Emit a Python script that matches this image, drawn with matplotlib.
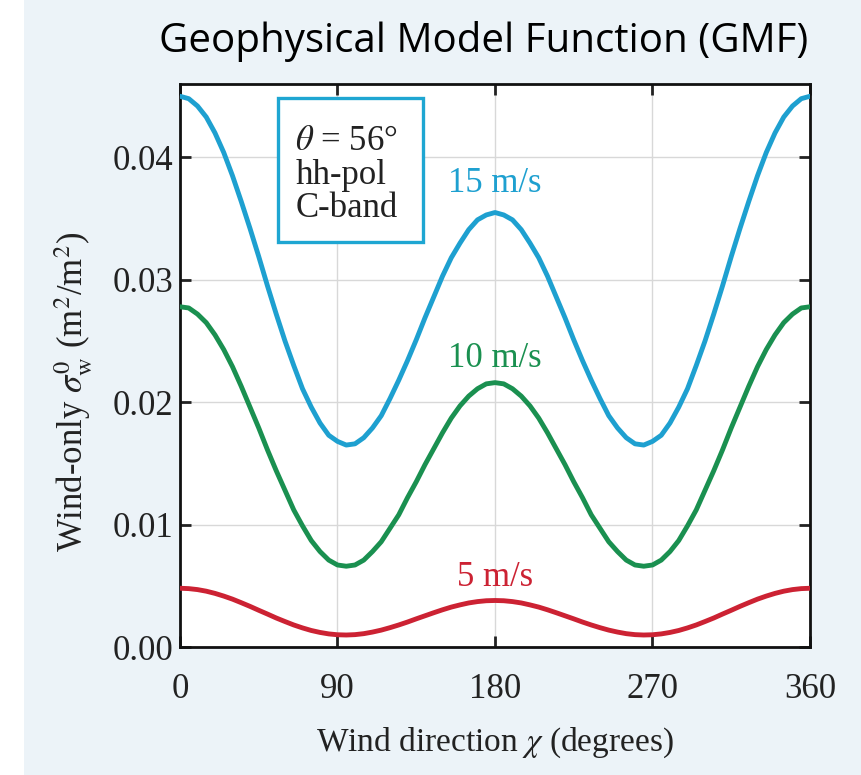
import matplotlib.pyplot as plt
from matplotlib.patches import Rectangle

# wind direction (degrees), values every 5 deg
chi = list(range(0, 361, 5))

sigma_15 = [0.0450, 0.0448, 0.0442, 0.0433, 0.0420, 0.0404, 0.0385, 0.0364, 0.0342, 0.0319,
            0.0295, 0.0272, 0.0250, 0.0230, 0.0211, 0.0196, 0.0183, 0.0173, 0.0168, 0.0165,
            0.0166, 0.0171, 0.0179, 0.0189, 0.0203, 0.0218, 0.0234, 0.0251, 0.0269, 0.0286,
            0.0303, 0.0318, 0.0330, 0.0341, 0.0349, 0.0353, 0.0355,
            0.0353, 0.0349, 0.0341, 0.0330, 0.0318, 0.0303, 0.0286, 0.0269, 0.0251, 0.0234,
            0.0218, 0.0203, 0.0189, 0.0179, 0.0171, 0.0166, 0.0165, 0.0168, 0.0173, 0.0183,
            0.0196, 0.0211, 0.0230, 0.0250, 0.0272, 0.0295, 0.0319, 0.0342, 0.0364, 0.0385,
            0.0404, 0.0420, 0.0433, 0.0442, 0.0448, 0.0450]

sigma_10 = [0.0278, 0.0277, 0.0272, 0.0265, 0.0255, 0.0243, 0.0229, 0.0213, 0.0196, 0.0179,
            0.0161, 0.0144, 0.0128, 0.0112, 0.0099, 0.0087, 0.0078, 0.0071, 0.0067, 0.0066,
            0.0067, 0.0071, 0.0078, 0.0086, 0.0097, 0.0108, 0.0122, 0.0135, 0.0149, 0.0162,
            0.0175, 0.0187, 0.0197, 0.0205, 0.0211, 0.0215, 0.0216,
            0.0215, 0.0211, 0.0205, 0.0197, 0.0187, 0.0175, 0.0162, 0.0149, 0.0135, 0.0122,
            0.0108, 0.0097, 0.0086, 0.0078, 0.0071, 0.0067, 0.0066, 0.0067, 0.0071, 0.0078,
            0.0087, 0.0099, 0.0112, 0.0128, 0.0144, 0.0161, 0.0179, 0.0196, 0.0213, 0.0229,
            0.0243, 0.0255, 0.0265, 0.0272, 0.0277, 0.0278]

sigma_5 = [0.00480, 0.00477, 0.00469, 0.00456, 0.00438, 0.00416, 0.00391, 0.00362, 0.00332, 0.00300,
           0.00269, 0.00237, 0.00208, 0.00180, 0.00156, 0.00135, 0.00119, 0.00107, 0.00100, 0.00098,
           0.00101, 0.00109, 0.00122, 0.00138, 0.00158, 0.00180, 0.00204, 0.00230, 0.00255, 0.00280,
           0.00304, 0.00326, 0.00344, 0.00360, 0.00371, 0.00378, 0.00380,
           0.00378, 0.00371, 0.00360, 0.00344, 0.00326, 0.00304, 0.00280, 0.00255, 0.00230, 0.00204,
           0.00180, 0.00158, 0.00138, 0.00122, 0.00109, 0.00101, 0.00098, 0.00100, 0.00107, 0.00119,
           0.00135, 0.00156, 0.00180, 0.00208, 0.00237, 0.00269, 0.00300, 0.00332, 0.00362, 0.00391,
           0.00416, 0.00438, 0.00456, 0.00469, 0.00477, 0.00480]

speeds = ['15 m/s', '10 m/s', '5 m/s']
label_y = [0.0379, 0.0236, 0.0057]
colors = ['#1ea0d0', '#1a9050', '#cc2233']

xticks = [0, 90, 180, 270, 360]
yticks = [0.00, 0.01, 0.02, 0.03, 0.04]

plt.rcParams['font.family'] = ['Liberation Serif', 'DejaVu Serif']
plt.rcParams['mathtext.fontset'] = 'stix'

fig = plt.figure(figsize=(8.62, 7.75), dpi=100)
fig.patch.set_facecolor('#ecf3f8')
# white strip on the left edge
fig.add_artist(Rectangle((0, 0), 24 / 862, 1, transform=fig.transFigure,
                         facecolor='white', edgecolor='none', zorder=-1))

ax = fig.add_axes([180 / 862, 1 - 647 / 775, 630 / 862, 563 / 775])
ax.set_facecolor('white')

for ys, c in zip([sigma_15, sigma_10, sigma_5], colors):
    ax.plot(chi, ys, color=c, lw=3.5, solid_capstyle='round', zorder=3)

for s, yl, c in zip(speeds, label_y, colors):
    ax.text(180, yl, s, color=c, fontsize=25, ha='center', va='center')

ax.set_xlim(0, 360)
ax.set_ylim(0, 0.046)
ax.set_xticks(xticks)
ax.set_yticks(yticks)
ax.set_yticklabels(['%.2f' % v for v in yticks])
ax.grid(True, color='#d8d8d8', lw=1.0, zorder=0)
ax.tick_params(direction='in', length=8, width=2, top=True, right=True,
               labelsize=25, colors='#222222')
ax.tick_params(axis='x', pad=19)
ax.tick_params(axis='y', pad=5)
for sp in ax.spines.values():
    sp.set_linewidth(2)
    sp.set_color('#111111')

ax.set_xlabel(r'Wind direction $\chi$ (degrees)', fontsize=24, color='#222222', labelpad=14)
ax.set_ylabel(r'Wind-only $\sigma_{\rm w}^{0}$ (m$^2$/m$^2$)', fontsize=25, color='#222222')
ax.yaxis.set_label_coords(-0.135, 0.453)

# info box
ax.add_patch(Rectangle((56, 0.0331), 83, 0.01175, facecolor='white',
                       edgecolor='#1ea6d2', lw=2.4, zorder=4))
ax.text(66, 0.0413, r'$\theta$ = 56°', fontsize=25, va='center', zorder=5, color='#222222')
ax.text(66, 0.0385, 'hh-pol', fontsize=25, va='center', zorder=5, color='#222222')
ax.text(66, 0.0358, 'C-band', fontsize=25, va='center', zorder=5, color='#222222')

fig.text(484 / 862, 1 - 42 / 775, 'Geophysical Model Function (GMF)',
         fontsize=29, ha='center', va='center', family=['Open Sans', 'DejaVu Sans'],
         color='black')

fig.savefig('out.png', dpi=100, facecolor=fig.get_facecolor())
